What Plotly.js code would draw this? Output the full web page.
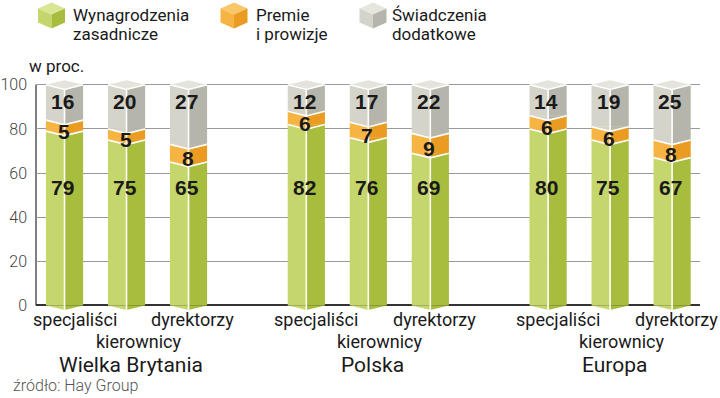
<!DOCTYPE html>
<html>
<head>
<meta charset="utf-8">
<script src="https://cdn.plot.ly/plotly-3.0.1.min.js"></script>
<style>html,body{margin:0;padding:0;background:#fff;}#chart{width:720px;height:398px;}</style>
</head>
<body>
<div id="chart"></div>
<script>
// ---- data ----
const groups = ['Wielka Brytania', 'Polska', 'Europa'];
const roles = ['specjaliści', 'kierownicy', 'dyrektorzy'];
const wynagrodzenia = [79, 75, 65, 82, 76, 69, 80, 75, 67];
const premie = [5, 5, 8, 6, 7, 9, 6, 6, 8];
const swiadczenia = [16, 20, 27, 12, 17, 22, 14, 19, 25];
const seriesNames = ['Wynagrodzenia|zasadnicze', 'Premie|i prowizje', 'Świadczenia|dodatkowe'];
const yTicks = [0, 20, 40, 60, 80, 100];
const sourceText = 'źródło: Hay Group';
const unitText = 'w proc.';

// ---- styles ----
const COL = {
  green: ['#c5d76c', '#a8bc3d'],
  orange: ['#f6b443', '#e99b22'],
  gray: ['#d4d4cb', '#b5b5ab'],
  cap: '#e4e4dc'
};
const FONT = 'Roboto, "Liberation Sans", sans-serif';
const BOLD = '"Liberation Sans", Arial, sans-serif';
const GROUP_STEP = 3.9, HALF = 0.3, DIP = 2.1;

// pixel frame of the plot area
const L = 36, R = 700, T = 75.7, B = 312.1;
const PW = R - L, PH = B - T;
const px = x => (x - L) / PW;
const py = y => (B - y) / PH;

// bar positions
const pos = [];
groups.forEach((g, gi) => roles.forEach((r, ri) => pos.push(gi * GROUP_STEP + ri)));
const baseOrange = wynagrodzenia.slice();
const baseGray = wynagrodzenia.map((v, i) => v + premie[i]);
const totals = baseGray.map((v, i) => v + swiadczenia[i]);

const traces = [];
function barPair(vals, bases, cols) {
  [0, 1].forEach(k => traces.push({
    type: 'bar', x: pos, y: vals, base: bases, width: HALF, offset: k === 0 ? -HALF : 0,
    marker: {color: cols[k], line: {width: 0}}, hoverinfo: 'skip', showlegend: false
  }));
}
barPair(wynagrodzenia, pos.map(() => 0), COL.green);
barPair(premie, baseOrange, COL.orange);
barPair(swiadczenia, baseGray, COL.gray);

// chevron triangles, caps and white edges
function polyTrace(color) { return {type: 'scatter', mode: 'lines', x: [], y: [], fill: 'toself', fillcolor: color, line: {width: 0, color: color}, hoverinfo: 'skip', showlegend: false}; }
const polys = {
  gl: polyTrace(COL.green[0]), gd: polyTrace(COL.green[1]),
  ol: polyTrace(COL.orange[0]), od: polyTrace(COL.orange[1]),
  sl: polyTrace(COL.gray[0]), sd: polyTrace(COL.gray[1]),
  cap: polyTrace(COL.cap)
};
const edges = {type: 'scatter', mode: 'lines', x: [], y: [], line: {color: '#ffffff', width: 1.6}, hoverinfo: 'skip', showlegend: false};
function addPoly(t, pts) { pts.concat([pts[0]]).forEach(p => { t.x.push(p[0]); t.y.push(p[1]); }); t.x.push(null); t.y.push(null); }
function addLine(pts) { pts.forEach(p => { edges.x.push(p[0]); edges.y.push(p[1]); }); edges.x.push(null); edges.y.push(null); }

pos.forEach((c, i) => {
  const l = c - HALF, r = c + HALF;
  const levels = [[0, 'gl', 'gd'], [baseOrange[i], 'ol', 'od'], [baseGray[i], 'sl', 'sd']];
  levels.forEach(([v, a, b], k) => {
    addPoly(polys[a], [[l, v], [c, v - DIP], [c, v]]);
    addPoly(polys[b], [[c, v], [c, v - DIP], [r, v]]);
    if (k > 0) addLine([[l, v], [c, v - DIP], [r, v]]);
  });
  const t = totals[i];
  addPoly(polys.cap, [[l, t], [c, t + DIP], [r, t], [c, t - DIP]]);
  addLine([[l, t], [c, t - DIP], [r, t]]);
  addLine([[c, -DIP], [c, t - DIP]]);
});
Object.values(polys).forEach(p => traces.push(p));
traces.push(edges);

// ---- annotations ----
const ann = [];
const valFont = {family: BOLD, size: 21, color: '#1a1a1a', weight: 700};
pos.forEach((c, i) => {
  ann.push({x: c, y: 53.5, xref: 'x', yref: 'y', text: String(wynagrodzenia[i]), showarrow: false, font: valFont, xshift: -2, borderpad: 0});
  ann.push({x: c, y: baseOrange[i] + premie[i] / 2 - 2.5, xref: 'x', yref: 'y', text: String(premie[i]), showarrow: false, font: valFont, xshift: -1, borderpad: 0});
  ann.push({x: c, y: 92.5, xref: 'x', yref: 'y', text: String(swiadczenia[i]), showarrow: false, font: valFont, xshift: -2, borderpad: 0});
});
const roleShift = [10, 12, 4];
const roleRowY = [320, 342, 320];
pos.forEach((c, i) => {
  const ri = i % 3;
  ann.push({x: c, y: py(roleRowY[ri]), xref: 'x', yref: 'paper', text: roles[ri], showarrow: false, xshift: roleShift[ri], yanchor: 'middle',
    font: {family: FONT, size: 18, color: '#1a1a1a'}});
});
groups.forEach((g, gi) => {
  ann.push({x: gi * GROUP_STEP + 1, y: py(365), xref: 'x', yref: 'paper', text: g, showarrow: false, xshift: 4, yanchor: 'middle',
    font: {family: FONT, size: 21, color: '#1a1a1a'}});
});
ann.push({x: px(27), y: py(66), xref: 'paper', yref: 'paper', text: unitText, showarrow: false, xanchor: 'left', yanchor: 'middle',
  font: {family: FONT, size: 17, color: '#1a1a1a'}});
ann.push({x: px(11), y: py(386), xref: 'paper', yref: 'paper', text: sourceText, showarrow: false, xanchor: 'left', yanchor: 'middle',
  font: {family: FONT, size: 16, color: '#555555', weight: 300}});

// legend
const legX = [72, 255, 391];
const legCube = [51.5, 234, 373];
const legCols = [[COL.green[0], COL.green[1], '#d9e694'], [COL.orange[0], COL.orange[1], '#f9c66a'], [COL.gray[0], COL.gray[1], '#e6e6df']];
const shapes = [];
seriesNames.forEach((n, k) => {
  const lines = n.split('|');
  lines.forEach((t, j) => ann.push({x: px(legX[k]), y: py(15 + j * 19), xref: 'paper', yref: 'paper', text: t, showarrow: false,
    xanchor: 'left', yanchor: 'middle', borderpad: 0, font: {family: FONT, size: 17, color: '#1a1a1a'}}));
  const cx = legCube[k], hw = 13.5, y0 = 2, h = 14;
  const P = (x, y) => px(x) + ',' + py(y);
  shapes.push({type: 'path', xref: 'paper', yref: 'paper', line: {width: 0}, fillcolor: legCols[k][2],
    path: 'M' + P(cx - hw, y0 + 6) + 'L' + P(cx, y0) + 'L' + P(cx + hw, y0 + 6) + 'L' + P(cx, y0 + 12) + 'Z'});
  shapes.push({type: 'path', xref: 'paper', yref: 'paper', line: {width: 0}, fillcolor: legCols[k][0],
    path: 'M' + P(cx - hw, y0 + 6) + 'L' + P(cx, y0 + 12) + 'L' + P(cx, y0 + 12 + h) + 'L' + P(cx - hw, y0 + 6 + h) + 'Z'});
  shapes.push({type: 'path', xref: 'paper', yref: 'paper', line: {width: 0}, fillcolor: legCols[k][1],
    path: 'M' + P(cx, y0 + 12) + 'L' + P(cx + hw, y0 + 6) + 'L' + P(cx + hw, y0 + 6 + h) + 'L' + P(cx, y0 + 12 + h) + 'Z'});
});
// y axis line from 0 to 100
shapes.push({type: 'line', xref: 'paper', yref: 'y', x0: 0, x1: 0, y0: 0, y1: 100, line: {color: '#555555', width: 1.5}, layer: 'below'});

const layout = {
  width: 720, height: 398,
  margin: {l: L, r: 720 - R, t: T, b: 398 - B, pad: 0},
  paper_bgcolor: '#ffffff', plot_bgcolor: '#ffffff',
  barmode: 'overlay', showlegend: false,
  xaxis: {range: [-0.46, 10.25], showgrid: false, zeroline: false, showticklabels: false, ticks: '', showline: false, fixedrange: true},
  yaxis: {range: [-3, 104], tickvals: yTicks, ticktext: yTicks.map(String), showgrid: true, gridcolor: '#9a9a9a', gridwidth: 1,
    zeroline: true, zerolinecolor: '#333333', zerolinewidth: 2, ticks: '', ticklabelstandoff: 8, showline: false,
    tickfont: {family: FONT, size: 16, color: '#444444', weight: 300}, fixedrange: true},
  annotations: ann, shapes: shapes
};
Plotly.newPlot('chart', traces, layout, {displayModeBar: false, staticPlot: true});
</script>
</body>
</html>
